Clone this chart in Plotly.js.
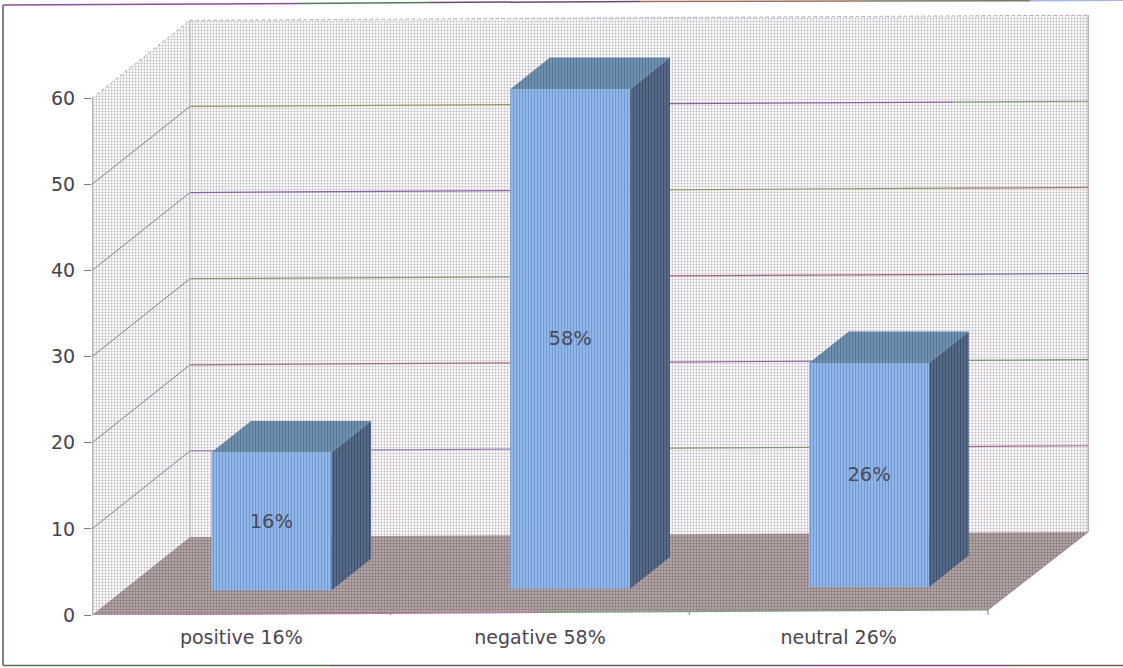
<!DOCTYPE html>
<html><head><meta charset="utf-8">
<script src="https://cdn.plot.ly/plotly-3.0.1.min.js"></script>
<style>html,body{margin:0;padding:0;background:#fff}#c{width:1123px;height:668px}</style>
</head><body><div id="c"></div>
<script>
const categories=['positive 16%','negative 58%','neutral 26%'];
const values=[16,58,26];
const barLabels=['16%','58%','26%'];
const yTicks=[0,10,20,30,40,50,60];
const gridValues=[10,20,30,40,50];
const gridColors=[['#9a7fb5','#7f9a70','#a86a90'],['#a07070','#8a5a9a','#6f9a6f'],['#8a9a70','#a0607a','#7a6aa0'],['#8a60a8','#8f9560','#a07a60'],['#9a9560','#8a60a8','#7f9f70']];
const gridBreaks=[0,1.45,2.55,3];

const YMAX=60, NCAT=3;
const DX=0.328, DY=9.05, TILT=0.2, SPREAD=0.0025;
const BAR_W=0.402, BAR_D0=0.305, BAR_DEPTH=0.405;
const XR=[0,3.375], YR=[0,70.48];
const P=(c,v,d)=>[c*(1+SPREAD*d)+d*DX, v+d*DY+c*TILT];

const traces=[];
function poly(points,color,pat,axes){
  traces.push({type:'scatter',mode:'lines',x:points.map(p=>p[0]).concat(points[0][0]),y:points.map(p=>p[1]).concat(points[0][1]),
    fill:'toself',fillcolor:color,fillpattern:pat,line:{width:0},hoverinfo:'skip',cliponaxis:false,showlegend:false,xaxis:axes?'x2':'x',yaxis:axes?'y2':'y'});
}
function line(points,color,width,dash){
  traces.push({type:'scatter',mode:'lines',x:points.map(p=>p[0]),y:points.map(p=>p[1]),
    line:{color:color,width:width||1,dash:dash||'solid'},hoverinfo:'skip',cliponaxis:false,showlegend:false,xaxis:'x',yaxis:'y'});
}
const wallPat={shape:'.',size:3,solidity:0.3,fgcolor:'#bdb8c2',bgcolor:'#fafafa'};
const floorPat={shape:'.',size:3,solidity:0.5,fgcolor:'#8a7a7c',bgcolor:'#bfb2b2'};
// walls and floor
poly([P(0,0,0),P(0,YMAX,0),P(0,YMAX,1),P(0,0,1)],'#f2f2f3',wallPat);
poly([P(0,0,1),P(0,YMAX,1),P(NCAT,YMAX,1),P(NCAT,0,1)],'#f2f2f3',wallPat);
poly([P(0,0,0),P(0,0,1),P(NCAT,0,1),P(NCAT,0,0)],'#a89a9a',floorPat);
// gridlines
gridValues.forEach((v,i)=>{
  line([P(0,v,0),P(0,v,1)],'#8a8090',1);
  for(let s=0;s<3;s++){line([P(gridBreaks[s],v,1),P(gridBreaks[s+1],v,1)],gridColors[i][s],1.2);}
});
// wall edges
line([P(0,0,0),P(0,YMAX,0)],'#7d7a80',1);
line([P(0,YMAX,0),P(0,YMAX,1)],'#b9a3b5',1,'dot');
line([P(0,YMAX,1),P(NCAT,YMAX,1)],'#bda6c2',1,'dot');
line([P(0,0,1),P(0,YMAX,1)],'#b5b1ba',1);
line([P(NCAT,0,1),P(NCAT,YMAX,1)],'#a08a98',1);
line([P(NCAT,0,0),P(NCAT,0,1)],'#8f8a8c',1);
line([P(0,0,0),P(1.5,0,0)],'#b678a8',1.2);
line([P(1.5,0,0),P(NCAT,0,0)],'#7f9a78',1.2);
// category ticks
[0,1,2,3].forEach(c=>{const p=P(c,0,0);line([[p[0],p[1]],[p[0],p[1]-0.95]],'#7d7a80',1);});

// bars
const barX=categories.map((_,i)=>P(i+0.5,0,BAR_D0)[0]);
const barBase=categories.map((_,i)=>P(i+0.5,0,BAR_D0)[1]);
traces.push({type:'bar',x:barX,y:values,base:barBase,width:BAR_W,xaxis:'x2',yaxis:'y2',
  marker:{color:'#88aee2',line:{width:0},pattern:{shape:'|',size:3,solidity:0.35,fgcolor:'#739ad2',bgcolor:'#90b6e8'}},
  text:barLabels,textposition:'inside',insidetextanchor:'middle',textangle:0,constraintext:'none',
  insidetextfont:{family:'DejaVu Sans',size:19.5,color:'#4a4a58'},hoverinfo:'skip',showlegend:false,cliponaxis:false});
values.forEach((v,i)=>{
  const x0=barX[i]-BAR_W/2,x1=barX[i]+BAR_W/2,b=barBase[i],t=b+v,dx=BAR_DEPTH*DX,dy=BAR_DEPTH*DY;
  poly([[x0,t],[x0+dx,t+dy],[x1+dx,t+dy],[x1,t]],'#6a8bab',{shape:'|',size:3,solidity:0.4,fgcolor:'#587794',bgcolor:'#7093b3'},true);
  poly([[x1,b],[x1,t],[x1+dx,t+dy],[x1+dx,b+dy]],'#4f6383',{shape:'|',size:3,solidity:0.45,fgcolor:'#404f6c',bgcolor:'#596e8e'},true);
});

const px=x=>(x-92)/1008;
const H=668-8-52.5;
const pyy=y=>(615.5-y)/H;
const frame=[[3,5,3,666,'#6b4a70'],[3,5,300,3.5,'#8a4f9a'],[300,3.5,430,2.5,'#4f7a4f'],[430,2.5,640,1.5,'#6a4a6a'],[640,1.5,860,1,'#a0705a'],[860,1,1030,0.7,'#7a7a60'],[1030,0.7,1123,0.3,'#aab4e8'],
 [3,666,330,666,'#55705a'],[330,666,800,666,'#5a5a5f'],[800,666,1010,666,'#7a4a78'],[1010,666,1123,666,'#7a5a50']];
const shapes=frame.map(f=>({type:'line',xref:'paper',yref:'paper',x0:px(f[0]),x1:px(f[2]),y0:pyy(f[1]),y1:pyy(f[3]),line:{color:f[4],width:1.5}}));

const layout={width:1123,height:668,autosize:false,margin:{l:92,r:23,t:8,b:52.5,pad:0},paper_bgcolor:'#fff',plot_bgcolor:'#fff',
  showlegend:false,hovermode:false,barmode:'overlay',shapes:shapes,
  xaxis:{range:XR,showgrid:false,zeroline:false,showline:false,ticks:'',tickmode:'array',tickvals:[0.5,1.5,2.5],ticktext:categories,
    tickfont:{family:'DejaVu Sans',size:19,color:'#4a4550'},ticklabelstandoff:9,tickangle:0,automargin:false,fixedrange:true},
  yaxis:{range:YR,showgrid:false,zeroline:false,showline:false,ticks:'outside',ticklen:7,tickwidth:1,tickcolor:'#8a6f8f',tickmode:'array',tickvals:yTicks,ticktext:yTicks.map(String),
    tickfont:{family:'DejaVu Sans',size:19,color:'#45424c'},ticklabelstandoff:5,automargin:false,fixedrange:true},
  xaxis2:{range:XR,overlaying:'x',visible:false,fixedrange:true},
  yaxis2:{range:YR,overlaying:'y',visible:false,fixedrange:true}};
Plotly.newPlot('c',traces,layout,{displayModeBar:false,staticPlot:true});
</script></body></html>
